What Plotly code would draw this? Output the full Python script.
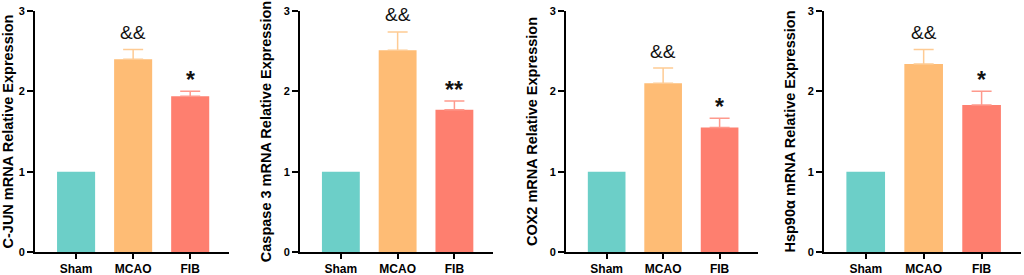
import plotly.graph_objects as go

groups = ["Sham", "MCAO", "FIB"]
titles = ["C-JUN mRNA Relative Expression", "Caspase 3 mRNA Relative Expression",
          "COX2 mRNA Relative Expression", "Hsp90α mRNA Relative Expression"]
cjun_mean = [1.0, 2.40, 1.94]
cjun_err = [0, 0.12, 0.06]
casp3_mean = [1.0, 2.51, 1.77]
casp3_err = [0, 0.23, 0.11]
cox2_mean = [1.0, 2.10, 1.55]
cox2_err = [0, 0.19, 0.115]
hsp_mean = [1.0, 2.34, 1.83]
hsp_err = [0, 0.18, 0.17]
sig_mcao = ["&&", "&&", "&&", "&&"]
sig_fib = ["*", "**", "*", "*"]
y_ticks = [0, 1, 2, 3]

means = [cjun_mean, casp3_mean, cox2_mean, hsp_mean]
errs = [cjun_err, casp3_err, cox2_err, hsp_err]

bar_colors = ["#6CCFC8", "#FEBC75", "#FE7F6F"]
err_colors = ["#8ED9D3", "#FECB94", "#FE9A8D"]

W, H = 1024, 275
dom_px = [(35, 229), (300, 493), (566, 758), (824, 1021)]
FONT = "Arial, Liberation Sans, sans-serif"

fig = go.Figure()
for i in range(4):
    xa = "x" if i == 0 else f"x{i+1}"
    ya = "y" if i == 0 else f"y{i+1}"
    for j, g in enumerate(groups):
        e = errs[i][j]
        fig.add_trace(go.Bar(
            x=[g], y=[means[i][j]], xaxis=xa, yaxis=ya,
            width=0.667, marker=dict(color=bar_colors[j], line=dict(width=0)),
            error_y=dict(type="data", symmetric=False, array=[e], arrayminus=[0],
                         visible=e > 0, color=err_colors[j], thickness=1.5, width=10),
            showlegend=False,
        ))
    fig.add_annotation(x=groups[1], y=means[i][1] + errs[i][1], xref=xa, yref=ya,
                       text=sig_mcao[i], showarrow=False, yanchor="middle",
                       yshift=17, font=dict(size=19, color="#111", family=FONT))
    fig.add_annotation(x=groups[2], y=means[i][2] + errs[i][2], xref=xa, yref=ya,
                       text=sig_fib[i], showarrow=False, yanchor="middle",
                       yshift=11, font=dict(size=23, color="#111", family=FONT, weight="bold"))
    d = [dom_px[i][0] / W, dom_px[i][1] / W]
    xkey = "xaxis" if i == 0 else f"xaxis{i+1}"
    ykey = "yaxis" if i == 0 else f"yaxis{i+1}"
    fig.update_layout(**{
        xkey: dict(domain=d, anchor=ya, type="category", categoryorder="array",
                   categoryarray=groups, range=[-0.72, 2.68], automargin=False,
                   showline=True, linecolor="black", linewidth=2,
                   ticks="outside", ticklen=5, tickwidth=1.5, tickcolor="black",
                   showgrid=False, zeroline=False,
                   tickfont=dict(size=12, color="black", family=FONT, weight="bold")),
        ykey: dict(domain=[23 / H, 264 / H], anchor=xa, range=[0, 3], automargin=False,
                   tickvals=y_ticks,
                   showline=True, linecolor="black", linewidth=2,
                   ticks="outside", ticklen=6, tickwidth=1.5, tickcolor="black",
                   showgrid=False, zeroline=False,
                   tickfont=dict(size=11, color="black", family=FONT, weight="bold"),
                   title=dict(text=titles[i], standoff=9,
                              font=dict(size=14.5, color="black", family=FONT, weight="bold"))),
    })

fig.update_layout(
    template="none",
    width=W, height=H, margin=dict(l=0, r=0, t=0, b=0, pad=0),
    paper_bgcolor="white", plot_bgcolor="white",
    showlegend=False,
)
fig.write_html("out.html", config={"displayModeBar": False},
               post_script="document.body.style.margin='0';document.body.style.overflow='hidden';")
